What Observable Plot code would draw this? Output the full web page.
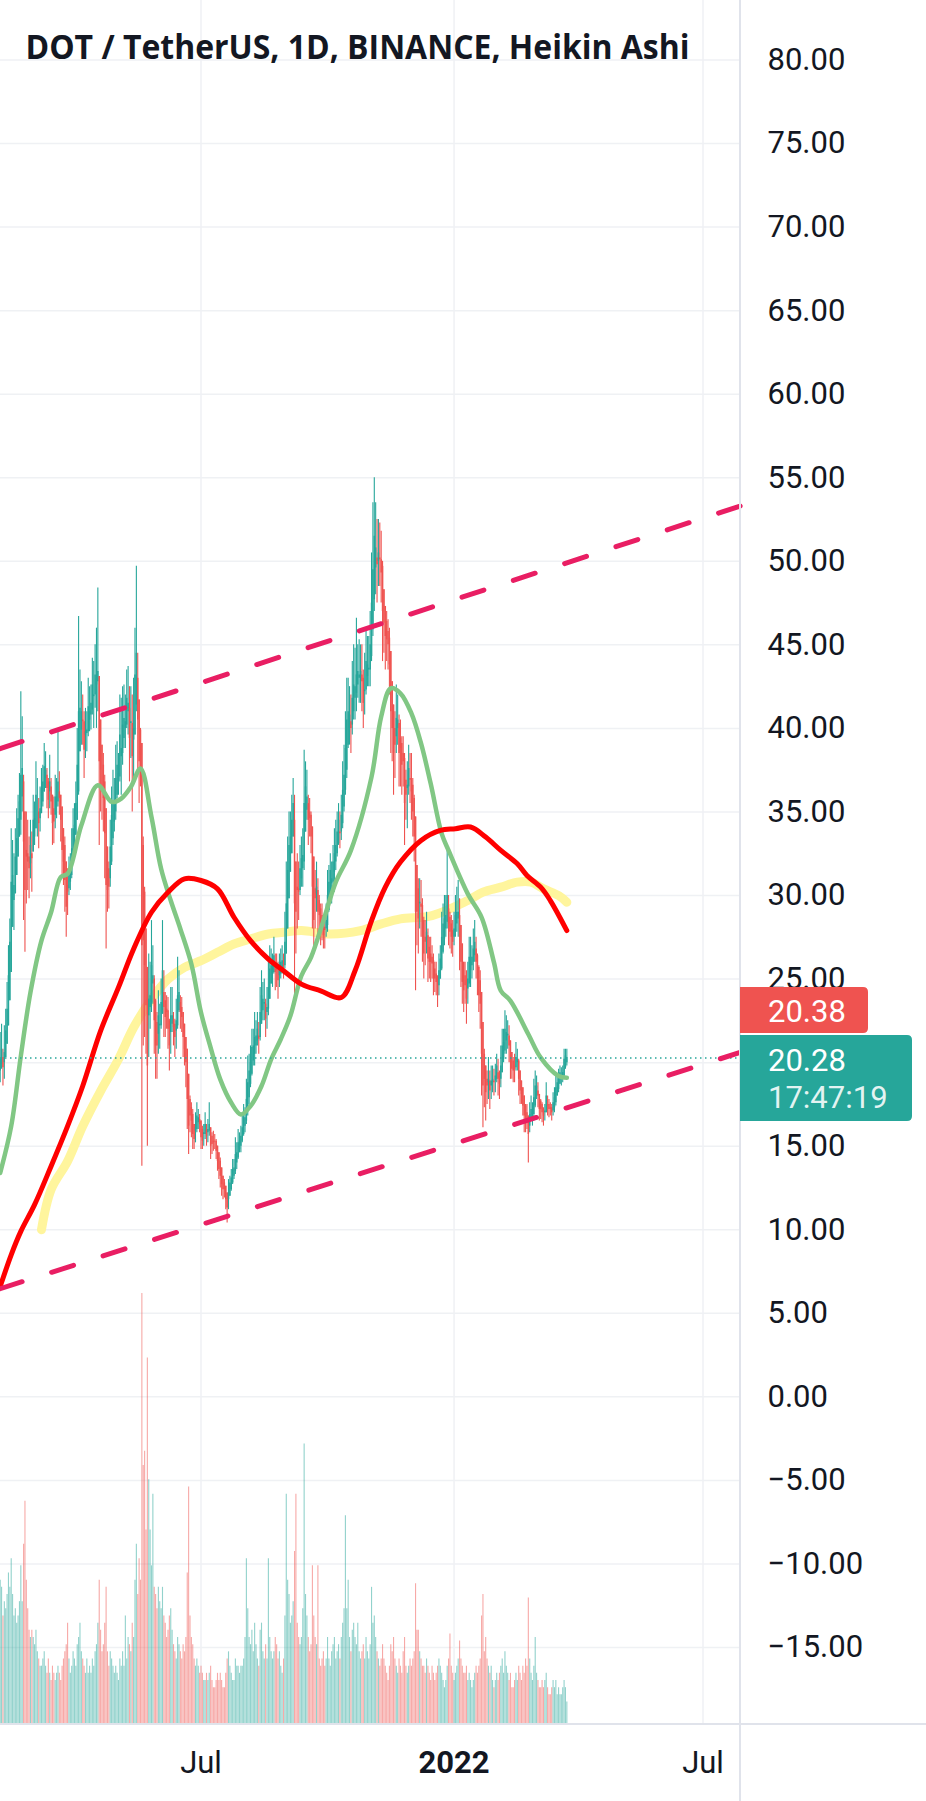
<!DOCTYPE html>
<html>
<head>
<meta charset="utf-8">
<script src="https://cdn.jsdelivr.net/npm/d3@7"></script>
<script src="https://cdn.jsdelivr.net/npm/@observablehq/plot@0.6"></script>
<style>
  html, body { margin: 0; padding: 0; background: #ffffff; }
  #chart { position: relative; width: 926px; height: 1801px; overflow: hidden; background: #ffffff; color: #131722; }
  #chart > svg { position: absolute; left: 0; top: 0; }
</style>
</head>
<body>
<div id="chart"></div>
<script>
// ---------------- DATA ----------------
const titleText = "DOT / TetherUS, 1D, BINANCE, Heikin Ashi";
const firstDay = "2021-02-05";
// Heikin Ashi daily rows: [open, high, low, close, volume]
const feb21 = [
[19.5,21.8,18.8,20.2,20],[19.9,22.3,19.6,20.8,19],[20.3,20.8,18.6,19.7,15],[20.0,22.2,19.0,20.6,17],
[20.3,23.2,20.3,21.9,16],[21.1,24.8,21.1,23.2,18],[22.2,27.0,22.2,25.2,21],[23.7,28.6,23.7,27.2,19],
[25.4,34.0,25.4,30.8,23],[28.1,33.3,28.1,31.2,18],[29.7,32.5,27.9,30.6,15],[30.1,34.0,30.1,32.3,16],
[31.2,35.2,31.2,33.4,14],[32.3,36.0,32.3,34.6,15],[33.5,37.3,33.5,35.6,17],[34.5,42.2,33.6,37.2,22],
[35.9,40.7,35.0,37.6,17],[36.8,37.2,28.5,33.2,25],[35.0,35.0,26.6,30.3,31],[32.7,35.0,29.5,32.3,20],
[32.5,34.5,30.3,32.0,16],[32.3,33.5,29.8,31.6,13],[31.9,34.5,31.0,33.0,12],[32.5,33.8,30.2,32.2,13]];
const mar21 = [
[32.6,36.0,32.6,34.5,12],[33.5,35.6,33.0,34.6,11],[34.0,38.0,34.0,36.0,13],[35.0,37.0,33.5,35.0,10],
[35.0,35.8,32.8,34.3,9],[34.6,36.5,33.8,35.2,8],[34.9,37.6,34.9,36.4,8],[35.6,37.8,35.3,36.8,9],
[36.2,39.1,36.2,37.7,10],[37.0,38.6,36.4,37.5,8],[37.2,37.6,35.2,36.4,7],[36.8,37.0,34.6,35.7,9],
[36.2,38.4,35.2,36.8,7],[36.5,37.0,34.8,35.6,6],[36.0,36.0,33.0,34.3,8],[35.2,35.9,33.1,34.4,7],
[34.8,37.2,34.0,35.9,6],[35.3,37.0,34.6,35.9,7],[35.6,39.9,35.3,36.8,8],[36.2,37.4,34.8,35.8,7],
[36.0,36.0,33.2,34.5,6],[35.3,35.3,31.0,32.7,8],[34.0,34.0,30.6,32.0,9],[33.0,33.5,29.0,30.9,10],
[32.0,32.0,27.5,29.3,11],[30.6,31.6,28.8,30.2,14],[30.4,32.3,30.0,31.3,9],[30.8,32.5,30.3,31.6,7],
[31.2,34.0,31.0,32.8,8],[32.0,35.2,32.0,34.0,10],[33.0,35.5,32.6,34.2,9]];
const apr21 = [
[33.6,36.8,33.6,35.5,8],[34.5,40.0,34.5,37.8,11],[36.2,46.7,36.0,41.0,12],[38.6,43.5,38.6,41.2,14],
[39.9,42.8,39.0,41.0,10],[40.5,42.0,39.0,40.4,9],[40.4,41.0,37.0,38.7,8],[39.6,41.2,38.2,39.8,7],
[39.7,41.0,38.6,39.9,9],[39.8,43.0,39.5,41.3,7],[40.5,42.5,39.8,41.0,8],[40.8,42.6,39.9,41.5,7],
[41.1,44.2,40.8,42.6,9],[41.9,44.0,40.0,42.0,8],[42.0,45.0,41.2,43.2,10],[42.6,46.0,40.0,43.0,11],
[42.8,48.4,41.0,43.4,14],[43.1,43.1,33.0,38.0,20],[40.5,40.5,35.0,37.5,13],[39.0,39.0,34.5,36.5,10],
[37.8,38.5,33.8,35.8,11],[36.8,37.2,31.0,33.7,14],[35.2,35.2,26.8,30.6,19],[32.9,32.9,29.0,30.3,10],
[31.6,32.0,29.2,30.5,8],[31.0,34.5,30.5,32.9,10],[32.0,36.5,31.8,34.8,9],[33.4,37.5,33.0,35.5,8],
[34.4,37.0,33.8,35.6,7],[35.0,39.0,34.5,37.0,8]];
const may21 = [
[36.0,39.2,35.8,37.8,7],[36.9,38.5,36.0,37.3,6],[37.1,42.0,36.8,39.6,9],[38.3,41.8,36.0,38.8,8],
[38.5,42.5,37.8,40.2,10],[39.4,42.6,38.8,40.6,8],[40.0,42.0,38.8,40.4,15],[40.2,43.5,40.0,41.8,9],
[41.0,43.7,39.6,41.5,12],[41.2,42.5,36.8,39.4,11],[40.3,42.5,38.2,40.4,10],[40.3,42.0,35.0,38.3,14],
[39.3,43.0,36.8,40.0,12],[39.6,46.0,39.6,43.2,20],[41.4,49.7,41.0,44.5,25],[43.0,44.5,37.5,40.5,18],
[41.7,41.7,35.5,38.0,23],[39.9,40.0,36.5,38.4,20],[39.1,39.1,13.8,27.0,60],[33.0,33.5,21.0,27.3,36],
[30.2,30.5,21.5,25.8,38],[28.0,28.0,20.5,23.4,27],[25.7,25.7,15.0,19.8,51],[22.8,26.5,20.3,23.8,34],
[23.3,26.0,22.0,24.0,27],[23.6,28.5,23.0,25.8,22],[24.7,27.0,23.5,25.2,32],[25.0,25.2,20.5,22.5,19],
[23.7,23.8,19.0,21.0,18],[22.4,23.0,19.0,21.0,16],[21.7,24.3,20.5,22.8,19]];
const jun21 = [
[22.2,23.5,20.8,22.3,17],[22.2,25.0,22.0,23.6,16],[22.9,28.5,22.9,25.5,19],[24.2,25.5,21.5,23.3,15],
[23.7,24.2,21.5,22.7,14],[23.2,24.0,22.0,23.0,12],[23.1,23.9,20.8,22.0,13],[22.5,22.6,19.5,21.0,15],
[21.8,24.5,20.5,22.8,16],[22.3,24.5,21.8,22.8,13],[22.5,23.0,21.0,22.1,11],[22.3,22.6,20.3,21.5,10],
[21.9,23.8,20.8,22.5,9],[22.2,26.3,22.0,24.0,12],[23.1,25.5,23.0,24.2,11],[23.6,24.0,22.0,23.0,10],
[23.3,23.9,21.8,22.7,9],[23.0,23.0,20.3,21.5,11],[22.3,22.3,19.8,20.8,10],[21.5,21.5,18.5,20.0,12],
[20.8,20.8,16.0,17.8,21],[19.3,19.3,14.5,16.2,33],[17.8,18.0,15.8,16.8,15],[17.3,17.6,15.5,16.5,12],
[16.9,17.2,14.8,15.7,11],[16.3,16.3,14.8,15.4,9],[15.9,17.0,15.2,16.1,8],[16.0,17.6,15.8,16.8,9],
[16.4,17.2,16.0,16.7,8],[16.6,16.9,15.8,16.3,7]];
const jul21 = [
[16.5,16.5,14.8,15.5,8],[16.0,16.2,14.8,15.3,7],[15.7,16.3,15.0,15.8,6],[15.7,17.0,15.4,16.3,6],
[16.0,16.3,15.0,15.6,7],[15.8,16.6,15.2,16.0,6],[15.9,17.6,15.6,16.3,7],[16.1,16.1,14.2,15.0,8],
[15.6,15.8,14.5,15.1,6],[15.3,15.9,14.7,15.2,5],[15.3,15.7,14.8,15.25,5],[15.3,15.4,14.2,14.7,6],
[15.0,15.0,13.5,14.1,7],[14.6,14.6,13.0,13.6,6],[14.1,14.3,12.5,13.2,7],[13.7,13.7,12.0,12.7,6],
[13.2,13.2,11.8,12.4,5],[12.8,13.0,11.9,12.4,5],[12.6,12.6,11.2,11.8,7],[12.2,12.2,10.4,11.3,9],
[11.8,13.0,11.2,12.2,10],[12.0,13.2,12.0,12.8,8],[12.4,13.6,12.3,13.1,7],[12.8,14.2,12.7,13.6,6],
[13.2,14.2,13.0,13.7,6],[13.5,15.5,13.3,14.5,9],[14.0,15.2,13.6,14.6,8],[14.3,16.0,14.2,15.2,8],
[14.8,15.8,14.6,15.3,7],[15.0,16.2,14.6,15.6,8],[15.3,16.8,15.2,16.1,8]];
const aug21 = [
[15.7,17.5,15.6,16.7,9],[16.2,17.3,15.8,16.7,12],[16.5,19.0,16.3,17.8,23],[17.1,20.4,16.8,18.8,16],
[17.9,20.5,17.5,19.5,12],[18.7,21.0,18.5,20.0,11],[19.3,22.0,19.2,20.9,13],[20.1,22.0,19.8,21.0,10],
[20.5,23.0,19.8,21.5,14],[21.0,22.5,20.5,21.6,11],[21.3,23.0,21.0,22.0,9],[21.6,22.4,20.5,21.4,8],
[21.5,24.5,21.3,23.0,13],[22.3,25.5,22.3,24.0,14],[23.1,24.8,22.5,23.8,10],[23.5,25.0,22.5,23.6,9],
[23.5,23.8,21.5,22.6,11],[23.0,24.5,22.0,23.3,9],[23.2,26.0,22.8,24.5,23],[23.8,27.0,23.8,25.6,12],
[24.7,26.8,24.7,25.8,10],[25.3,26.5,24.5,25.6,9],[25.4,27.5,25.3,26.4,10],[25.9,26.5,24.3,25.4,12],
[25.7,26.5,24.5,25.5,11],[25.6,26.0,23.8,24.9,9],[25.2,26.5,24.5,25.5,10],[25.3,26.8,25.0,26.0,8],
[25.7,27.0,25.3,26.1,7],[25.9,26.5,25.0,25.8,9],[25.8,29.0,25.6,27.2,15]];
const sep21 = [
[26.5,32.0,26.5,29.5,32],[28.0,33.5,28.0,31.5,20],[29.8,35.0,29.8,33.0,18],[31.4,35.0,31.4,33.5,14],
[32.5,36.0,32.5,34.5,15],[33.5,37.0,33.5,35.5,17],[34.5,36.0,24.0,29.5,24],[32.0,32.0,26.5,29.0,32],
[30.5,32.5,28.0,30.3,14],[30.4,32.0,28.5,30.2,12],[30.3,33.0,30.0,31.6,11],[31.0,33.5,30.5,32.2,12],
[31.6,34.0,30.5,32.4,16],[32.0,38.7,31.5,35.5,39],[33.8,38.0,33.8,36.5,18],[35.1,37.5,34.5,35.9,15],
[35.5,36.0,33.0,34.5,12],[35.0,35.8,33.5,34.6,10],[34.8,35.0,32.5,33.5,11],[34.1,34.1,28.0,30.5,22],
[32.3,32.3,26.5,28.5,15],[30.4,31.5,28.0,29.8,12],[30.1,32.0,29.0,30.5,11],[30.3,31.0,27.5,29.0,22],
[29.7,30.0,27.8,28.8,9],[29.2,29.5,27.0,28.3,8],[28.8,29.5,27.3,28.3,9],[28.5,28.8,26.8,27.6,10],
[28.1,29.0,26.8,27.9,8],[28.0,29.5,27.5,28.5,9]];
const oct21 = [
[28.2,31.5,27.8,30.0,12],[29.1,31.8,29.0,30.8,9],[29.9,32.5,29.8,31.5,8],[30.7,32.0,29.5,31.0,10],
[30.8,33.0,30.3,32.0,11],[31.4,34.0,30.2,32.5,12],[32.0,34.5,31.5,33.0,9],[32.5,35.0,32.3,33.8,10],
[33.1,35.5,33.0,34.5,11],[33.8,35.0,32.8,33.7,9],[33.8,36.0,33.3,34.8,12],[34.3,38.0,34.0,36.3,14],
[35.3,39.0,35.0,37.2,16],[36.3,41.0,36.0,38.8,29],[37.5,43.0,37.0,40.5,16],[39.0,43.0,38.8,41.0,20],
[40.0,42.5,39.0,40.8,12],[40.4,42.0,38.5,40.0,10],[40.2,44.0,39.6,41.8,13],[41.0,45.0,40.5,42.6,14],
[41.8,44.8,40.5,42.5,12],[42.1,46.6,41.0,43.2,11],[42.6,45.0,41.8,43.4,14],[43.0,45.3,41.5,43.2,10],
[43.1,45.0,41.5,43.4,9],[43.2,45.0,41.0,42.8,10],[43.0,43.5,40.0,41.5,11],[42.2,44.5,40.8,42.3,9],
[42.3,46.0,42.0,44.0,12],[43.1,45.5,42.5,43.8,10],[43.5,45.5,42.5,43.6,9]];
const nov21 = [
[43.5,47.0,42.5,45.0,11],[44.3,50.5,44.0,47.5,19],[45.9,53.5,45.5,49.5,14],[47.7,55.0,47.0,51.5,15],
[49.6,53.5,48.0,50.8,12],[50.2,52.5,47.5,49.8,10],[50.0,52.5,48.5,50.5,9],[50.2,52.3,48.5,50.1,8],
[50.1,51.8,47.5,49.3,9],[49.7,50.0,44.0,47.0,11],[48.3,48.3,44.5,46.3,9],[47.3,47.3,43.5,45.5,8],
[46.4,47.0,44.0,45.3,7],[45.8,46.5,43.5,45.0,6],[45.4,46.0,42.0,43.8,8],[44.6,44.6,38.5,41.0,11],
[42.8,42.8,38.0,40.0,10],[41.4,41.4,36.0,38.5,12],[40.0,41.0,37.0,39.0,9],[39.5,42.6,38.5,40.6,8],
[40.0,42.0,39.0,40.5,7],[40.3,40.8,36.5,38.5,9],[39.4,40.5,36.5,38.8,8],[39.1,39.5,36.0,37.8,7],
[38.5,39.5,36.5,38.0,10],[38.2,38.5,33.0,35.5,12],[36.9,37.5,34.5,36.0,8],[36.4,38.0,34.0,36.6,7],
[36.5,39.0,36.0,37.6,8],[37.0,38.5,35.5,36.9,9]];
const dec21 = [
[37.0,38.5,34.5,36.2,8],[36.6,37.0,33.5,35.0,9],[35.8,36.0,32.0,33.5,10],[34.7,34.7,24.3,29.0,19.5],
[31.8,31.8,27.0,29.0,13],[30.4,31.0,26.5,28.6,13],[29.5,31.0,28.0,29.6,10],[29.5,30.9,27.5,29.3,9],
[29.4,29.8,26.0,27.5,8],[28.5,28.7,25.0,26.5,8],[27.5,28.5,25.8,27.2,7],[27.3,29.0,26.5,27.8,9],
[27.6,28.0,24.8,26.2,8],[26.9,27.5,25.0,26.0,7],[26.5,27.5,24.8,26.0,6],[26.3,27.0,25.0,25.9,8],
[26.1,26.5,24.0,25.0,7],[25.6,26.0,24.2,25.0,6],[25.3,26.0,24.0,24.8,7],[25.1,25.2,23.3,24.0,8],
[24.6,26.5,24.0,25.5,9],[25.0,27.0,25.0,26.2,8],[25.6,29.0,25.5,27.5,7],[26.6,29.5,26.5,28.3,6],
[27.4,30.0,27.0,28.6,5],[28.0,30.0,27.5,28.8,6],[28.4,33.0,28.0,30.0,8],[29.2,30.0,27.0,28.3,9],
[28.7,29.0,26.8,27.8,12.5],[28.3,28.8,26.5,27.5,8],[27.9,28.5,26.3,27.2,7]];
const jan22 = [
[27.5,29.0,27.0,28.0,6],[27.8,30.0,27.5,28.8,7],[28.3,30.5,27.8,29.0,8],[28.6,30.9,27.5,29.0,9],
[28.8,29.8,25.5,27.5,11.5],[28.2,28.2,24.5,26.0,9],[27.1,27.1,23.5,24.8,8],[26.0,26.0,23.0,24.3,7],
[25.2,26.0,23.5,24.6,7],[24.9,25.5,22.3,23.8,8],[24.4,26.0,23.5,25.0,6],[24.7,27.5,24.5,26.3,7],
[25.5,27.5,24.5,26.0,6],[25.8,27.0,25.0,26.3,5],[26.0,28.0,25.5,26.8,6],[26.4,28.5,26.0,27.2,7],
[26.8,27.5,25.0,26.0,8],[26.4,26.5,24.0,25.0,7],[25.7,25.8,23.0,24.0,8],[24.9,25.5,22.0,23.5,9],
[24.2,24.2,18.0,20.5,15],[22.4,22.4,16.1,18.6,18],[20.5,20.8,17.3,19.0,10],[19.8,19.8,16.5,18.2,12],
[19.0,19.5,17.5,18.6,9],[18.8,20.3,17.8,19.0,8],[18.9,19.5,17.2,18.3,7],[18.6,19.8,17.8,18.9,8],
[18.8,19.8,18.2,19.0,6],[18.9,19.6,18.0,18.8,5],[18.9,19.9,18.2,19.2,6]];
const feb22 = [
[19.0,20.5,18.8,19.8,7],[19.4,20.2,18.0,19.0,6],[19.2,19.5,17.8,18.7,7],[19.0,21.0,18.5,19.8,8],
[19.4,22.0,19.4,21.0,9],[20.2,22.0,20.0,21.2,7],[20.7,23.1,20.5,22.0,10],[21.3,22.8,20.5,21.8,8],
[21.6,22.5,20.8,21.7,7],[21.6,22.2,20.0,21.0,6],[21.3,21.3,19.0,20.0,7],[20.6,20.6,19.0,19.6,5],
[20.1,20.3,18.8,19.5,5],[19.8,20.5,18.8,19.6,6],[19.7,21.2,19.5,20.3,7],[20.0,20.8,19.5,20.2,6],
[20.1,20.2,18.0,19.0,8],[19.5,19.5,17.5,18.3,7],[18.9,18.9,17.5,18.1,6],[18.5,18.5,16.8,17.4,8],
[18.0,18.0,15.8,16.8,7],[17.4,17.5,15.8,16.6,9],[17.0,17.5,16.0,16.6,8],[16.8,16.8,14.0,15.7,17.5],
[16.2,17.6,15.8,16.9,9],[16.6,18.0,16.5,17.2,7],[16.9,17.6,16.2,17.0,6],[16.9,19.0,16.5,17.9,8]];
const mar22 = [
[17.4,19.5,17.3,18.6,12],[18.0,19.2,17.8,18.6,7],[18.3,18.8,17.3,18.0,6],[18.1,18.1,16.5,17.2,5],
[17.7,17.8,16.6,17.2,5],[17.5,17.6,16.4,17.0,6],[17.2,17.3,16.2,16.8,5],[17.0,17.5,16.5,17.1,6],
[17.0,18.8,17.0,18.0,7],[17.5,18.0,16.8,17.4,5],[17.5,17.8,16.7,17.2,4],[17.3,17.6,16.8,17.2,4],
[17.3,17.5,16.5,17.0,5],[17.1,18.2,16.8,17.6,6],[17.3,18.5,17.0,17.9,5],[17.6,19.3,17.4,18.5,6],
[18.0,19.2,18.0,18.8,4],[18.4,19.6,18.2,19.0,5],[18.7,19.8,18.7,19.4,4],[19.0,19.7,18.6,19.2,4],
[19.1,19.8,18.8,19.4,5],[19.2,20.8,19.1,20.2,6],[19.7,20.8,19.6,20.4,5],[20.0,20.8,19.8,20.3,3]];

// moving averages: [date, value]
const greenMA = [["2021-02-05",13.4],["2021-02-13",16.2],["2021-02-20",20.4],["2021-02-27",24.2],["2021-03-07",27.3],["2021-03-14",29.0],["2021-03-21",31.1],["2021-03-26",31.3],["2021-04-05",34.2],["2021-04-17",36.6],["2021-04-27",35.6],["2021-05-04",35.8],["2021-05-11",36.5],["2021-05-18",37.6],["2021-05-26",34.7],["2021-06-02",31.6],["2021-06-09",29.7],["2021-06-16",28.0],["2021-06-24",25.9],["2021-07-01",23.0],["2021-07-08",20.9],["2021-07-15",19.0],["2021-07-23",17.6],["2021-07-30",16.9],["2021-08-06",17.4],["2021-08-14",18.6],["2021-08-21",20.2],["2021-08-28",21.4],["2021-09-04",22.8],["2021-09-12",25.2],["2021-09-19",26.3],["2021-09-28",28.5],["2021-10-07",30.8],["2021-10-18",32.7],["2021-11-02",37.1],["2021-11-09",40.7],["2021-11-16",42.4],["2021-11-23",42.1],["2021-12-01",40.9],["2021-12-08",39.1],["2021-12-15",36.7],["2021-12-23",33.7],["2021-12-28",32.7],["2022-01-11",30.1],["2022-01-21",28.7],["2022-01-30",26.0],["2022-02-04",24.3],["2022-02-11",23.7],["2022-02-24",21.7],["2022-03-05",20.3],["2022-03-18",19.2],["2022-03-24",19.1]];
const redMA = [["2021-02-05",6.6],["2021-02-13",8.5],["2021-02-20",9.9],["2021-03-02",11.5],["2021-03-14",13.8],["2021-03-26",16.2],["2021-04-06",18.6],["2021-04-19",21.9],["2021-05-02",24.5],["2021-05-13",26.8],["2021-05-26",29.0],["2021-06-07",30.2],["2021-06-19",31.0],["2021-07-01",30.9],["2021-07-13",30.4],["2021-07-25",28.7],["2021-08-06",27.3],["2021-08-19",26.2],["2021-08-30",25.5],["2021-09-12",24.7],["2021-09-26",24.3],["2021-10-11",23.9],["2021-10-21",25.5],["2021-11-02",28.5],["2021-11-12",30.5],["2021-11-23",32.0],["2021-12-08",33.3],["2021-12-22",33.9],["2022-01-02",34.0],["2022-01-13",34.1],["2022-01-24",33.5],["2022-02-04",32.7],["2022-02-16",31.9],["2022-02-23",31.2],["2022-03-05",30.5],["2022-03-12",29.7],["2022-03-24",27.9]];
const yellowMA = [["2021-03-07",10.0],["2021-03-14",12.4],["2021-03-26",14.1],["2021-04-06",16.2],["2021-04-19",18.3],["2021-05-02",20.2],["2021-05-13",22.1],["2021-05-26",23.8],["2021-06-07",25.0],["2021-06-19",25.7],["2021-07-01",26.1],["2021-07-13",26.6],["2021-07-25",27.1],["2021-08-06",27.4],["2021-08-19",27.7],["2021-08-30",27.8],["2021-09-12",27.9],["2021-10-03",27.7],["2021-10-25",27.9],["2021-11-09",28.3],["2021-11-23",28.6],["2021-12-16",28.8],["2022-01-11",29.7],["2022-01-22",30.2],["2022-02-04",30.5],["2022-02-16",30.8],["2022-02-26",30.8],["2022-03-07",30.4],["2022-03-18",30.0],["2022-03-24",29.6]];
// hand-drawn trend channel
const lowerTrend = [["2021-02-05",6.47],["2022-07-28",20.61]];
const upperTrend = [["2021-02-05",38.79],["2022-07-28",53.31]];
// axes
const yTicks = [-15,-10,-5,0,5,10,15,20,25,30,35,40,45,50,55,60,65,70,75,80];
const timeTickDates = ["2021-07-01","2022-01-01","2022-07-01"];
const timeTickLabels = ["Jul","2022","Jul"];
const timeTickBold = [false,true,false];
// price labels
const lastPrice = 20.28;
const haPrice = 20.38;
const countdown = "17:47:19";

// ---------------- BUILD ----------------
const UP = "#26a69a", DOWN = "#ef5350";
const t0 = new Date(firstDay + "T00:00:00Z");
const rows = [feb21, mar21, apr21, may21, jun21, jul21, aug21, sep21, oct21, nov21, dec21, jan22, feb22, mar22].flat();
const candles = rows.map((r, i) => ({
  date: d3.utcDay.offset(t0, i), open: r[0], high: r[1], low: r[2], close: r[3], volume: r[4],
  color: r[3] >= r[0] ? UP : DOWN
}));
const pts = a => a.map(([d, v]) => ({date: new Date(d + "T00:00:00Z"), value: v}));
const timeTicks = timeTickDates.map((d, i) => ({date: new Date(d + "T00:00:00Z"), label: timeTickLabels[i], bold: timeTickBold[i]}));

const W = 926, H = 1801;
const plotRight = 739, plotBottom = 1723;
const pxPerDay = (702.5 - 200.5) / 365;
const xDomain = [
  new Date(Date.UTC(2021, 6, 1) - (200.5 / pxPerDay) * 864e5),
  new Date(Date.UTC(2022, 6, 1) + ((plotRight - 702.5) / pxPerDay) * 864e5)
];
const yDomain = [-19.548, 83.561];
const FONT = "Roboto, 'Noto Sans', sans-serif";
const INK = "#131722";
const GRID = "#eff1f4";

const common = {
  width: W, height: H, marginLeft: 0, marginRight: W - plotRight, marginTop: 0, marginBottom: H - plotBottom,
  x: {type: "utc", domain: xDomain, axis: null},
  color: {type: "identity"}
};

const pricePlot = Plot.plot({
  ...common,
  y: {domain: yDomain, axis: null},
  style: {background: "transparent", overflow: "visible"},
  marks: [
    Plot.ruleY(yTicks, {stroke: GRID, strokeWidth: 1.5}),
    Plot.ruleX(timeTicks, {x: "date", stroke: GRID, strokeWidth: 1.5}),
    Plot.line(pts(yellowMA), {x: "date", y: "value", stroke: "#fff59d", strokeWidth: 9, curve: "catmull-rom", strokeLinecap: "round", strokeLinejoin: "round"}),
    Plot.ruleX(candles, {x: "date", y1: "low", y2: "high", stroke: "color", strokeWidth: 1.1}),
    Plot.ruleX(candles, {x: "date", y1: "open", y2: "close", stroke: "color", strokeWidth: 1.5}),
    Plot.line(pts(greenMA), {x: "date", y: "value", stroke: "#81c784", strokeWidth: 4.5, curve: "catmull-rom", strokeLinecap: "round", strokeLinejoin: "round"}),
    Plot.line(pts(redMA), {x: "date", y: "value", stroke: "#ff0000", strokeWidth: 5, curve: "catmull-rom", strokeLinecap: "round", strokeLinejoin: "round"}),
    Plot.ruleY([lastPrice], {stroke: UP, strokeWidth: 1.5, strokeDasharray: "1.5,3.5"}),
    Plot.line(pts(lowerTrend), {x: "date", y: "value", stroke: "#e91e63", strokeWidth: 5, strokeDasharray: "23,31"}),
    Plot.line(pts(upperTrend), {x: "date", y: "value", stroke: "#e91e63", strokeWidth: 5, strokeDasharray: "23,31"}),
    Plot.axisY(yTicks, {anchor: "right", tickSize: 0, tickPadding: 28, tickFormat: d3.format(".2f"), fontSize: 31, fontFamily: FONT, label: null}),
    Plot.text(timeTicks.filter(d => !d.bold), {x: "date", text: "label", frameAnchor: "bottom", lineAnchor: "middle", dy: 40, fontSize: 31, fontFamily: FONT, fill: INK}),
    Plot.text(timeTicks.filter(d => d.bold), {x: "date", text: "label", frameAnchor: "bottom", lineAnchor: "middle", dy: 40, fontSize: 31, fontWeight: 700, fontFamily: FONT, fill: INK}),
    Plot.text([titleText], {text: d => d, frameAnchor: "top-left", textAnchor: "start", lineAnchor: "bottom", dx: 25, dy: 58, fontSize: 34, fontWeight: 700, fontFamily: "'Open Sans', 'Noto Sans', sans-serif", fill: INK})
  ]
});

const volumePlot = Plot.plot({
  ...common,
  y: {domain: [0, 60], range: [plotBottom, plotBottom - 430], axis: null},
  style: {background: "transparent", overflow: "visible"},
  marks: [
    Plot.ruleX(candles, {x: "date", y1: 0, y2: "volume", stroke: "color", strokeOpacity: 0.5, strokeWidth: 1.1})
  ]
});

const host = document.getElementById("chart");
host.appendChild(pricePlot);
host.appendChild(volumePlot);

// fit the title to the width it has in the reference
d3.select(pricePlot).selectAll("text").filter(function () { return this.textContent === titleText; })
  .attr("textLength", 664).attr("lengthAdjust", "spacingAndGlyphs");

// pane borders and last-price labels (positioned through the price y scale)
const ys = pricePlot.scale("y");
const yOf = ys.apply ? (v => ys.apply(v)) : d3.scaleLinear(ys.domain, ys.range);
const overlay = d3.select(volumePlot);
overlay.append("line").attr("x1", plotRight + 1).attr("x2", plotRight + 1).attr("y1", 0).attr("y2", H)
  .attr("stroke", "#e0e3eb").attr("stroke-width", 2);
overlay.append("line").attr("x1", 0).attr("x2", W).attr("y1", plotBottom + 1).attr("y2", plotBottom + 1)
  .attr("stroke", "#e0e3eb").attr("stroke-width", 2);

function boxPath(x0, y0, x1, y1, r) {
  return `M${x0},${y0}H${x1 - r}Q${x1},${y0} ${x1},${y0 + r}V${y1 - r}Q${x1},${y1} ${x1 - r},${y1}H${x0}Z`;
}
const yLast = yOf(lastPrice);
const tealTop = yLast - 22.5, tealBottom = yLast + 63.5;
const redBottom = tealTop - 2, redTop = redBottom - 46;
const lx0 = plotRight + 1;
overlay.append("path").attr("d", boxPath(lx0, redTop, 868, redBottom, 5)).attr("fill", DOWN);
overlay.append("path").attr("d", boxPath(lx0, tealTop, 912, tealBottom, 5)).attr("fill", UP);
const priceLabel = (txt, cy, op) => overlay.append("text").attr("x", 768).attr("y", cy + 11)
  .attr("text-anchor", "start").attr("font-family", FONT).attr("font-size", 31)
  .attr("fill", "#ffffff").attr("fill-opacity", op).text(txt);
priceLabel(d3.format(".2f")(haPrice), (redTop + redBottom) / 2 + 1, 1);
priceLabel(d3.format(".2f")(lastPrice), yLast + 2.5, 1);
priceLabel(countdown, yLast + 39.5, 0.88);
</script>
</body>
</html>
